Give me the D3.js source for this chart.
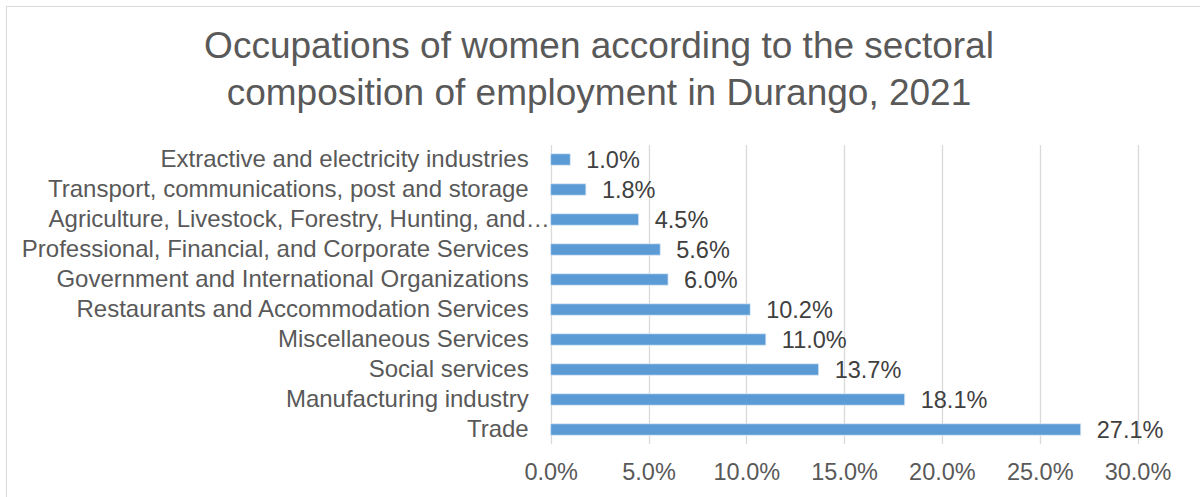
<!DOCTYPE html>
<html>
<head>
<meta charset="utf-8">
<script src="https://cdn.jsdelivr.net/npm/d3@7"></script>
<style>
  html, body { margin: 0; padding: 0; background: #fff; }
  svg { display: block; font-family: "Liberation Sans", Arial, sans-serif; }
</style>
</head>
<body>
<svg id="chart" width="1200" height="497"></svg>
<script>
// Sector names, top to bottom
const categories = [
  "Extractive and electricity industries",
  "Transport, communications, post and storage",
  "Agriculture, Livestock, Forestry, Hunting, and…",
  "Professional, Financial, and Corporate Services",
  "Government and International Organizations",
  "Restaurants and Accommodation Services",
  "Miscellaneous Services",
  "Social services",
  "Manufacturing industry",
  "Trade"
];
// Share of employed women by sector (%)
const shares = [1.0, 1.8, 4.5, 5.6, 6.0, 10.2, 11.0, 13.7, 18.1, 27.1];
// Horizontal axis ticks (%)
const xTicks = [0, 5, 10, 15, 20, 25, 30];
const titleLines = [
  "Occupations of women according to the sectoral",
  "composition of employment in Durango, 2021"
];

const FONT = "'Liberation Sans', Arial, sans-serif";
const svg = d3.select("#chart");

// outer frame
svg.append("rect")
  .attr("x", 6.5).attr("y", 6.5)
  .attr("width", 1210).attr("height", 510)
  .attr("fill", "#fff").attr("stroke", "#d9d9d9").attr("stroke-width", 1);

// title
svg.append("text")
  .attr("x", 599).attr("y", 58)
  .attr("text-anchor", "middle")
  .attr("fill", "#595959")
  .style("font-size", "37px")
  .selectAll("tspan").data(titleLines).join("tspan")
  .attr("x", 599)
  .attr("dy", (d, i) => i === 0 ? 0 : 47)
  .text(d => d);

const x = d3.scaleLinear().domain([0, 30]).range([550.7, 1137.5]);
const y = d3.scaleBand().domain(categories).range([144.5, 444.5]).paddingInner(0.62).paddingOuter(0.31);

// vertical gridlines
svg.append("g").selectAll("line").data(xTicks).join("line")
  .attr("x1", d => Math.round(x(d)) + 0.5).attr("x2", d => Math.round(x(d)) + 0.5)
  .attr("y1", 145).attr("y2", 444)
  .attr("stroke", "#d9d9d9").attr("stroke-width", 1.3);

// bottom axis labels
const xAxis = d3.axisBottom(x).tickValues(xTicks).tickSize(0).tickPadding(0)
  .tickFormat(d => d.toFixed(1) + "%");
const gx = svg.append("g").attr("transform", "translate(0,463)").call(xAxis);
gx.select(".domain").remove();
gx.selectAll("text")
  .attr("fill", "#595959")
  .style("font-size", "23.5px")
  .style("font-family", FONT);

// left axis category labels
const yAxis = d3.axisLeft(y).tickSize(0).tickPadding(22);
const gy = svg.append("g").attr("transform", `translate(${x(0)},0)`).call(yAxis);
gy.select(".domain").remove();
gy.selectAll("text")
  .attr("fill", "#595959")
  .attr("dx", d => d.endsWith("…") ? 21 : 0)
  .style("font-size", "24px")
  .style("font-family", FONT);

// bars
const rows = categories.map((c, i) => ({ c, v: shares[i] }));
svg.append("g").selectAll("rect").data(rows).join("rect")
  .attr("x", x(0))
  .attr("y", d => y(d.c))
  .attr("width", d => x(d.v) - x(0))
  .attr("height", y.bandwidth())
  .attr("fill", "#5b9bd5")
  .attr("stroke", "#dbe8f5").attr("stroke-width", 0.8);

// value labels
svg.append("g").selectAll("text").data(rows).join("text")
  .attr("x", d => x(d.v) + 16)
  .attr("y", d => y(d.c) + y.bandwidth() / 2)
  .attr("dy", "0.36em")
  .attr("fill", "#404040")
  .style("font-size", "23.5px")
  .text(d => d.v.toFixed(1) + "%");
</script>
</body>
</html>
